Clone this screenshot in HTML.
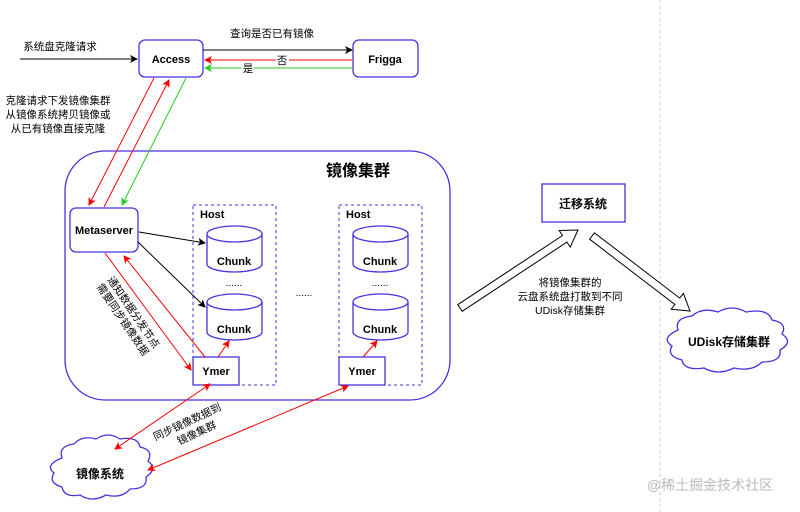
<!DOCTYPE html>
<html><head><meta charset="utf-8"><style>
body{margin:0;background:#fff}
svg{display:block}
text{font-family:"Liberation Sans","Noto Sans CJK SC",sans-serif;}
.b{font-weight:bold;font-size:11px}
</style></head><body>
<svg width="800" height="512" viewBox="0 0 800 512" xmlns="http://www.w3.org/2000/svg">
<defs>
<marker id="ak" markerWidth="8" markerHeight="8" refX="7" refY="4" orient="auto" markerUnits="userSpaceOnUse"><path d="M0,0 L8,4 L0,8 L2,4z" fill="#000"/></marker>
<marker id="ar" markerWidth="8" markerHeight="8" refX="7" refY="4" orient="auto" markerUnits="userSpaceOnUse"><path d="M0,0 L8,4 L0,8 L2,4z" fill="#f00"/></marker>
<marker id="ars" markerWidth="8" markerHeight="8" refX="1" refY="4" orient="auto" markerUnits="userSpaceOnUse"><path d="M8,0 L0,4 L8,8 L6,4z" fill="#f00"/></marker>
<marker id="ag" markerWidth="8" markerHeight="8" refX="7" refY="4" orient="auto" markerUnits="userSpaceOnUse"><path d="M0,0 L8,4 L0,8 L2,4z" fill="#2c2"/></marker>
</defs>
<line x1="660" y1="0" x2="660" y2="512" stroke="#ccc" stroke-dasharray="3,3"/>
<rect x="65" y="151" width="385" height="249" rx="40" fill="none" stroke="#4433dd" stroke-width="1.3"/>
<text x="358" y="176" text-anchor="middle" font-weight="bold" font-size="16">镜像集群</text>
<rect x="139" y="40" width="64" height="37" rx="6" fill="#fff" stroke="#4433dd" stroke-width="1.3"/>
<text x="171" y="63" text-anchor="middle" class="b">Access</text>
<rect x="353" y="40" width="65" height="37" rx="6" fill="#fff" stroke="#4433dd" stroke-width="1.3"/>
<text x="385" y="63" text-anchor="middle" class="b">Frigga</text>
<line x1="20" y1="59" x2="137" y2="59" stroke="#000" marker-end="url(#ak)"/>
<text x="60" y="50" text-anchor="middle" font-size="10.5">系统盘克隆请求</text>
<line x1="203" y1="50" x2="352" y2="50" stroke="#000" marker-end="url(#ak)"/>
<text x="272" y="37" text-anchor="middle" font-size="10.5">查询是否已有镜像</text>
<line x1="352" y1="60" x2="205" y2="60" stroke="#f00" marker-end="url(#ar)"/>
<line x1="352" y1="68" x2="205" y2="68" stroke="#2c2" marker-end="url(#ag)"/>
<rect x="276" y="54" width="13" height="11" fill="#fff"/>
<text x="282" y="64" text-anchor="middle" font-size="10.5">否</text>
<rect x="241" y="62" width="13" height="10" fill="#fff"/>
<text x="248" y="72" text-anchor="middle" font-size="10.5">是</text>
<text x="58" y="104" text-anchor="middle" font-size="10.5">克隆请求下发镜像集群</text>
<text x="58" y="118" text-anchor="middle" font-size="10.5">从镜像系统拷贝镜像或</text>
<text x="58" y="132" text-anchor="middle" font-size="10.5">从已有镜像直接克隆</text>
<line x1="154" y1="78" x2="89" y2="205" stroke="#f00" marker-end="url(#ar)"/>
<line x1="104" y1="207" x2="169" y2="80" stroke="#f00" marker-end="url(#ar)"/>
<line x1="186" y1="78" x2="122" y2="205" stroke="#2c2" marker-end="url(#ag)"/>
<rect x="70" y="208" width="68" height="44" rx="6" fill="#fff" stroke="#4433dd" stroke-width="1.3"/>
<text x="104" y="234" text-anchor="middle" class="b">Metaserver</text>
<rect x="193" y="205" width="83" height="180" fill="none" stroke="#4433dd" stroke-dasharray="3,3"/>
<text x="200" y="218" class="b">Host</text>
<rect x="339" y="205" width="83" height="180" fill="none" stroke="#4433dd" stroke-dasharray="3,3"/>
<text x="346" y="218" class="b">Host</text>
<g fill="#fff" stroke="#4433dd" stroke-width="1.3">
<path d="M207,234 v30 a27.5,8 0 0 0 55,0 v-30"/><ellipse cx="234.5" cy="234" rx="27.5" ry="8"/>
<path d="M207,302 v30 a27.5,8 0 0 0 55,0 v-30"/><ellipse cx="234.5" cy="302" rx="27.5" ry="8"/>
<path d="M353,234 v30 a27.5,8 0 0 0 55,0 v-30"/><ellipse cx="380.5" cy="234" rx="27.5" ry="8"/>
<path d="M353,302 v30 a27.5,8 0 0 0 55,0 v-30"/><ellipse cx="380.5" cy="302" rx="27.5" ry="8"/>
</g>
<text x="234" y="265" text-anchor="middle" class="b">Chunk</text>
<text x="234" y="333" text-anchor="middle" class="b">Chunk</text>
<text x="380" y="265" text-anchor="middle" class="b">Chunk</text>
<text x="380" y="333" text-anchor="middle" class="b">Chunk</text>
<text x="234" y="286" text-anchor="middle" font-size="10">......</text>
<text x="380" y="286" text-anchor="middle" font-size="10">......</text>
<text x="304" y="296" text-anchor="middle" font-size="10">......</text>
<rect x="193" y="357" width="46" height="28" fill="#fff" stroke="#4433dd" stroke-width="1.3"/>
<text x="216" y="375" text-anchor="middle" class="b">Ymer</text>
<rect x="339" y="357" width="46" height="28" fill="#fff" stroke="#4433dd" stroke-width="1.3"/>
<text x="362" y="375" text-anchor="middle" class="b">Ymer</text>
<line x1="139" y1="232" x2="205" y2="243" stroke="#000" marker-end="url(#ak)"/>
<line x1="138" y1="242" x2="205" y2="307" stroke="#000" marker-end="url(#ak)"/>
<line x1="105" y1="253" x2="191" y2="370" stroke="#f00" marker-end="url(#ar)"/>
<line x1="205" y1="357" x2="124" y2="256" stroke="#f00" marker-end="url(#ar)"/>
<line x1="218" y1="357" x2="229" y2="341" stroke="#f00" marker-end="url(#ar)"/>
<line x1="363" y1="357" x2="377" y2="341" stroke="#f00" marker-end="url(#ar)"/>
<g transform="translate(128,316) rotate(56)">
<text x="0" y="-3" text-anchor="middle" font-size="10.5">通知数据分发节点</text>
<text x="0" y="10" text-anchor="middle" font-size="10.5">需要同步镜像数据</text>
</g>
<path d="M62,458 q-4,-12 12,-14 q8,-9 22,-5 q12,-8 24,0 q18,-3 20,8 q14,3 8,14 q10,8 -2,16 q2,12 -16,12 q-8,10 -24,6 q-14,8 -26,0 q-16,3 -18,-8 q-14,-4 -8,-14 q-10,-8 8,-15z" fill="#fff" stroke="#4433dd" stroke-width="1.3"/>
<text x="100" y="478" text-anchor="middle" font-weight="bold" font-size="12">镜像系统</text>
<line x1="115" y1="449" x2="210" y2="384" stroke="#f00" marker-start="url(#ars)" marker-end="url(#ar)"/>
<line x1="148" y1="470" x2="348" y2="386" stroke="#f00" marker-start="url(#ars)" marker-end="url(#ar)"/>
<g transform="translate(190,428) rotate(-25)">
<text x="0" y="-3" text-anchor="middle" font-size="10.5">同步镜像数据到</text>
<text x="4" y="11" text-anchor="middle" font-size="10.5">镜像集群</text>
</g>
<rect x="542" y="184" width="83" height="38" fill="#fff" stroke="#4433dd" stroke-width="1.3"/>
<text x="583" y="208" text-anchor="middle" font-weight="bold" font-size="12">迁移系统</text>
<polygon points="462.2,311.3 566.9,242.1 570.2,247.1 578,230 559.2,230.5 562.5,235.5 457.8,304.7" fill="#fff" stroke="#000"/>
<polygon points="589.6,239.2 674.9,304.5 671.2,309.2 690,311 683.4,293.4 679.7,298.1 594.4,232.8" fill="#fff" stroke="#000"/>
<text x="570" y="286" text-anchor="middle" font-size="10.5">将镜像集群的</text>
<text x="570" y="300" text-anchor="middle" font-size="10.5">云盘系统盘打散到不同</text>
<text x="570" y="314" text-anchor="middle" font-size="10.5">UDisk存储集群</text>
<path d="M678,330 q-4,-12 14,-14 q10,-9 26,-4 q14,-8 28,0 q22,-4 26,8 q16,3 10,14 q12,8 -2,16 q2,12 -18,12 q-10,10 -28,6 q-16,8 -30,0 q-20,3 -22,-8 q-16,-4 -10,-14 q-12,-8 6,-16z" fill="#fff" stroke="#4433dd" stroke-width="1.3"/>
<text x="729" y="346" text-anchor="middle" font-weight="bold" font-size="12">UDisk存储集群</text>
<text x="710" y="490" text-anchor="middle" font-size="14" fill="#bbb">@稀土掘金技术社区</text>
</svg>
</body></html>
